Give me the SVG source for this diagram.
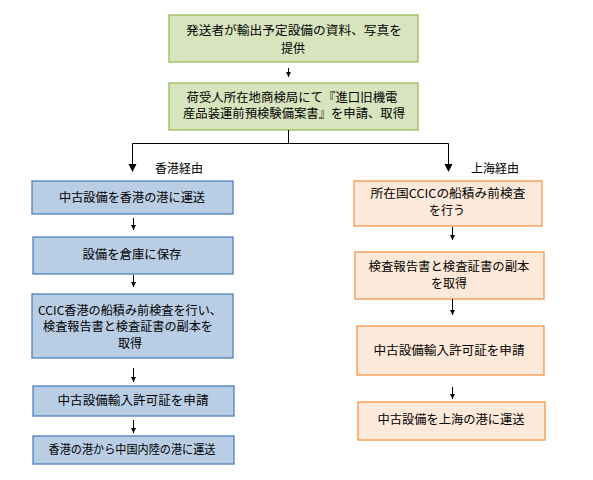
<svg xmlns="http://www.w3.org/2000/svg" width="593" height="480" viewBox="0 0 593 480">
<style>
text{font-family:"Noto Sans CJK JP","Noto Sans CJK SC",sans-serif;font-size:12px;fill:#000;text-anchor:middle}
.g{fill:#d7e4bd;stroke:#9bbb59;stroke-width:1.3}
.b{fill:#b9cde5;stroke:#4f81bd;stroke-width:1.3}
.o{fill:#fde9d9;stroke:#f79646;stroke-width:1.3}
.c{fill:none;stroke:#000;stroke-width:1}
.l{text-anchor:start}
</style>
<defs>
<marker id="s" viewBox="0 0 5 5" refX="5" refY="2.5" markerWidth="5" markerHeight="5" markerUnits="userSpaceOnUse" orient="auto"><path d="M0,0 L5,2.5 L0,5 Z" fill="#000"/></marker>
</defs>
<rect width="593" height="480" fill="#fff"/>
<g id="n1"><rect class="g" x="169" y="15" width="249" height="47"/><text x="294" y="35" textLength="216" lengthAdjust="spacingAndGlyphs">発送者が輸出予定設備の資料、写真を</text><text x="293" y="53">提供</text></g>
<g id="n2"><rect class="g" x="169" y="83" width="249" height="47"/><text x="292" y="102" textLength="211" lengthAdjust="spacingAndGlyphs">荷受人所在地商検局にて『進口旧機電</text><text x="294" y="118" textLength="222" lengthAdjust="spacingAndGlyphs">産品装運前預検験備案書』を申請、取得</text></g>
<g id="lbl1"><text class="l" x="155" y="173">香港経由</text></g>
<g id="lbl2"><text class="l" x="471" y="173">上海経由</text></g>
<g id="h1"><rect class="b" x="32" y="181" width="201" height="33"/><text x="132" y="202" textLength="146" lengthAdjust="spacingAndGlyphs">中古設備を香港の港に運送</text></g>
<g id="h2"><rect class="b" x="33" y="237" width="200" height="37"/><text x="132" y="259" textLength="99" lengthAdjust="spacingAndGlyphs">設備を倉庫に保存</text></g>
<g id="h3"><rect class="b" x="32" y="294" width="201" height="64"/><text x="130" y="315" textLength="184" lengthAdjust="spacingAndGlyphs">CCIC香港の船積み前検査を行い、</text><text x="128" y="331" textLength="170" lengthAdjust="spacingAndGlyphs">検査報告書と検査証書の副本を</text><text x="130" y="348">取得</text></g>
<g id="h4"><rect class="b" x="33" y="386" width="201" height="30"/><text x="133" y="405" textLength="151" lengthAdjust="spacingAndGlyphs">中古設備輸入許可証を申請</text></g>
<g id="h5"><rect class="b" x="33" y="436" width="201" height="28"/><text x="132" y="454" textLength="167" lengthAdjust="spacingAndGlyphs">香港の港から中国内陸の港に運送</text></g>
<g id="s1"><rect class="o" x="354" y="181" width="188" height="45"/><text x="448" y="198" textLength="155" lengthAdjust="spacingAndGlyphs">所在国CCICの船積み前検査</text><text x="447" y="215">を行う</text></g>
<g id="s2"><rect class="o" x="355" y="252" width="189" height="47"/><text x="449" y="271" textLength="161" lengthAdjust="spacingAndGlyphs">検査報告書と検査証書の副本</text><text x="449" y="288">を取得</text></g>
<g id="s3"><rect class="o" x="357" y="326" width="187" height="49"/><text x="449" y="355" textLength="151" lengthAdjust="spacingAndGlyphs">中古設備輸入許可証を申請</text></g>
<g id="s4"><rect class="o" x="358" y="402" width="187" height="38"/><text x="451" y="424" textLength="147" lengthAdjust="spacingAndGlyphs">中古設備を上海の港に運送</text></g>
<g id="connectors">
<path class="c" d="M288.5,68 V77" marker-end="url(#s)"/>
<path class="c" d="M288.5,130 V143.5"/>
<path class="c" d="M132.5,143.5 H448.5"/>
<path class="c" d="M132.5,143.5 V164"/>
<path d="M128.5,164 L136.5,164 L132.5,172 Z" fill="#000"/>
<path class="c" d="M448.5,143.5 V164"/>
<path d="M444.5,164 L452.5,164 L448.5,172 Z" fill="#000"/>
<path class="c" d="M133.5,218 V230" marker-end="url(#s)"/>
<path class="c" d="M133.5,275 V287" marker-end="url(#s)"/>
<path class="c" d="M133.5,368 V382" marker-end="url(#s)"/>
<path class="c" d="M133.5,420 V433" marker-end="url(#s)"/>
<path class="c" d="M452.5,227 V240" marker-end="url(#s)"/>
<path class="c" d="M452.5,299 V315" marker-end="url(#s)"/>
<path class="c" d="M452.5,387 V399" marker-end="url(#s)"/>
</g>
</svg>
